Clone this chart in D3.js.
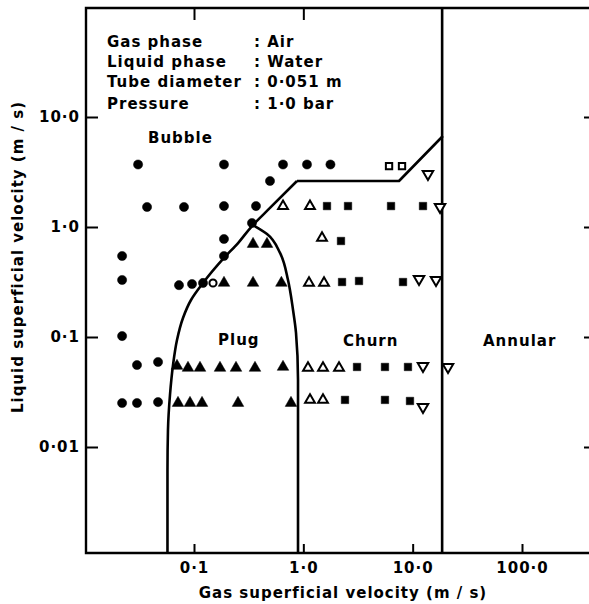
<!DOCTYPE html>
<html>
<head>
<meta charset="utf-8">
<script src="https://d3js.org/d3.v7.min.js"></script>
<style>
  body { margin: 0; padding: 0; background: #fff; }
  svg { display: block; }
  text {
    font-family: "DejaVu Sans", sans-serif;
    font-weight: bold;
    font-size: 15px;
    fill: #000;
    letter-spacing: 1px;
  }
  .axis path { display: none; }
  .axis line { stroke: #000; stroke-width: 2px; }
  .boundary { fill: none; stroke: #000; stroke-width: 2.6px; stroke-linejoin: round; }
</style>
</head>
<body>
<svg id="chart" width="589" height="604"></svg>
<script>

// tick values and labels
var xTicks = [0.1, 1, 10, 100];
var xTickLabels = ["0·1", "1·0", "10·0", "100·0"];
var yTicks = [0.01, 0.1, 1, 10];
var yTickLabels = ["0·01", "0·1", "1·0", "10·0"];

// observed points [gas velocity, liquid velocity] in m/s
var bubble = [
  [0.0308, 3.7], [0.188, 3.7], [0.652, 3.7], [1.08, 3.7], [1.77, 3.7],
  [0.4955, 2.62],
  [0.0372, 1.52], [0.081, 1.52], [0.188, 1.55], [0.369, 1.55],
  [0.339, 1.087],
  [0.188, 0.778],
  [0.022, 0.545], [0.188, 0.545],
  [0.022, 0.33], [0.0729, 0.296], [0.0959, 0.303], [0.1209, 0.31],
  [0.022, 0.102],
  [0.0301, 0.0556], [0.0469, 0.0593],
  [0.022, 0.0251], [0.0301, 0.0251], [0.0469, 0.0256]
];
var bubbleOpen = [[0.1492, 0.31]];
var plug = [
  [0.3467, 0.70], [0.4653, 0.70],
  [0.1881, 0.31], [0.3467, 0.31], [0.63, 0.31],
  [0.0699, 0.0545], [0.0881, 0.0523], [0.1135, 0.0523], [0.1729, 0.0523],
  [0.2422, 0.0523], [0.3613, 0.0523], [0.6518, 0.0534],
  [0.0714, 0.0251], [0.0919, 0.0251], [0.1184, 0.0251], [0.2526, 0.0251], [0.771, 0.0251]
];
var churnOpen = [
  [0.652, 1.55], [1.15, 1.55],
  [1.482, 0.794],
  [1.127, 0.31], [1.546, 0.31],
  [1.103, 0.0523], [1.513, 0.0523], [2.12, 0.0523],
  [1.151, 0.0268], [1.513, 0.0268]
];
var churnFilled = [
  [1.646, 1.55], [2.563, 1.55], [6.34, 1.55], [12.43, 1.55],
  [2.21, 0.746],
  [2.26, 0.316], [3.23, 0.323], [8.16, 0.316],
  [3.097, 0.0534], [5.58, 0.0534], [9.06, 0.0534],
  [2.405, 0.0268], [5.58, 0.0268], [9.45, 0.0262]
];
var squaresOpen = [[6.08, 3.58], [7.99, 3.58]];
var invTriangles = [
  [13.8, 3.03], [17.8, 1.52], [11.43, 0.337], [16.35, 0.33],
  [12.43, 0.0545], [21.05, 0.0534], [12.43, 0.0231]
];

// transition boundaries
var plugLeft = [
  [0.0572, 0.001], [0.0572, 0.00618], [0.0578, 0.01428], [0.0603, 0.0297],
  [0.0643, 0.0556], [0.0699, 0.094], [0.0793, 0.149], [0.0939, 0.217],
  [0.121, 0.31], [0.188, 0.523], [0.253, 0.715], [0.339, 1.02], [0.4955, 1.49], [0.875, 2.62]
];
var plugRight = [
  [0.33, 1.07], [0.4653, 0.864], [0.612, 0.581], [0.724, 0.33],
  [0.805, 0.176], [0.857, 0.109], [0.894, 0.0407], [0.894, 0.001]
];
var bubbleTop = [[0.875, 2.62], [7.5, 2.62], [18.9, 6.72]];
var annular = [[18.6, 0.0009], [18.6, 120]];

var frame = {left: 86, top: 8, right: 592, bottom: 553};

var svg = d3.select("#chart");

var x = d3.scaleLog().domain([0.1, 100]).range([194, 522]);
var y = d3.scaleLog().domain([0.01, 10]).range([447, 117]);

svg.append("defs").append("clipPath").attr("id", "plotclip")
  .append("rect")
    .attr("x", frame.left)
    .attr("y", frame.top)
    .attr("width", frame.right - frame.left)
    .attr("height", frame.bottom - frame.top);

// frame
svg.append("path")
  .attr("d", "M" + frame.right + "," + frame.top + "H" + frame.left + "V" + frame.bottom + "H" + frame.right)
  .attr("fill", "none")
  .attr("stroke", "#000")
  .attr("stroke-width", 2.4);

// axes, ticks pointing inwards
svg.append("g")
    .attr("class", "axis")
    .attr("transform", "translate(0," + frame.bottom + ")")
    .call(d3.axisBottom(x).tickValues(xTicks).tickSizeInner(-9).tickSizeOuter(0).tickPadding(9)
      .tickFormat(function(d, i) { return xTickLabels[i]; }));

svg.append("g")
    .attr("class", "axis")
    .attr("transform", "translate(0," + frame.top + ")")
    .call(d3.axisTop(x).tickValues([0.1, 1]).tickSizeInner(-12).tickSizeOuter(0).tickFormat(""));

svg.append("g")
    .attr("class", "axis")
    .attr("transform", "translate(" + frame.left + ",0)")
    .call(d3.axisLeft(y).tickValues(yTicks).tickSizeInner(-12).tickSizeOuter(0).tickPadding(6)
      .tickFormat(function(d, i) { return yTickLabels[i]; }));

svg.append("g")
    .attr("class", "axis")
    .attr("transform", "translate(" + frame.right + ",0)")
    .call(d3.axisRight(y).tickValues(yTicks).tickSizeInner(-8).tickSizeOuter(0).tickFormat(""));

svg.selectAll(".axis text")
    .style("font-family", "DejaVu Sans, sans-serif")
    .style("font-size", "15px")
    .style("font-weight", "bold")
    .attr("fill", "#000");

// axis titles
svg.append("text")
    .attr("x", 343)
    .attr("y", 598)
    .attr("text-anchor", "middle")
    .text("Gas superficial velocity (m / s)");

svg.append("text")
    .attr("transform", "translate(23,257) rotate(-90)")
    .attr("text-anchor", "middle")
    .text("Liquid superficial velocity (m / s)");

// boundaries
var plot = svg.append("g").attr("clip-path", "url(#plotclip)");

var curve = d3.line()
    .x(function(d) { return x(d[0]); })
    .y(function(d) { return y(d[1]); })
    .curve(d3.curveMonotoneY);

var straight = d3.line()
    .x(function(d) { return x(d[0]); })
    .y(function(d) { return y(d[1]); });

plot.append("path").attr("class", "boundary").attr("d", curve(plugLeft));
plot.append("path").attr("class", "boundary").attr("d", curve(plugRight));
plot.append("path").attr("class", "boundary").attr("d", straight(bubbleTop));
plot.append("path").attr("class", "boundary").attr("d", straight(annular));

// markers
function drawPoints(data, type, size, filled, rotate) {
  plot.append("g").selectAll("path")
      .data(data)
    .enter().append("path")
      .attr("d", d3.symbol().type(type).size(size))
      .attr("transform", function(d) {
        return "translate(" + x(d[0]) + "," + y(d[1]) + ")" + (rotate ? " rotate(180)" : "");
      })
      .attr("fill", filled ? "#000" : "#fff")
      .attr("stroke", "#000")
      .attr("stroke-width", filled ? 0.5 : 2);
}

drawPoints(bubble, d3.symbolCircle, 66, true, false);
drawPoints(bubbleOpen, d3.symbolCircle, 40, false, false);
drawPoints(plug, d3.symbolTriangle, 58, true, false);
drawPoints(churnOpen, d3.symbolTriangle, 42, false, false);
drawPoints(churnFilled, d3.symbolSquare, 56, true, false);
drawPoints(squaresOpen, d3.symbolSquare, 40, false, false);
drawPoints(invTriangles, d3.symbolTriangle, 48, false, true);

// conditions and regime names
var infoLabels = ["Gas phase", "Liquid phase", "Tube diameter", "Pressure"];
var infoValues = [": Air", ": Water", ": 0·051 m", ": 1·0 bar"];
var infoY = [47, 67, 87, 109];

svg.selectAll(".info-label")
    .data(infoLabels)
  .enter().append("text")
    .attr("class", "info-label")
    .attr("x", 107)
    .attr("y", function(d, i) { return infoY[i]; })
    .text(function(d) { return d; });

svg.selectAll(".info-value")
    .data(infoValues)
  .enter().append("text")
    .attr("class", "info-value")
    .attr("x", 254)
    .attr("y", function(d, i) { return infoY[i]; })
    .text(function(d) { return d; });

var regimes = [["Bubble", 148, 143], ["Plug", 218, 345], ["Churn", 343, 346], ["Annular", 483, 346]];
svg.selectAll(".regime")
    .data(regimes)
  .enter().append("text")
    .attr("class", "regime")
    .attr("x", function(d) { return d[1]; })
    .attr("y", function(d) { return d[2]; })
    .text(function(d) { return d[0]; });

</script>
</body>
</html>
